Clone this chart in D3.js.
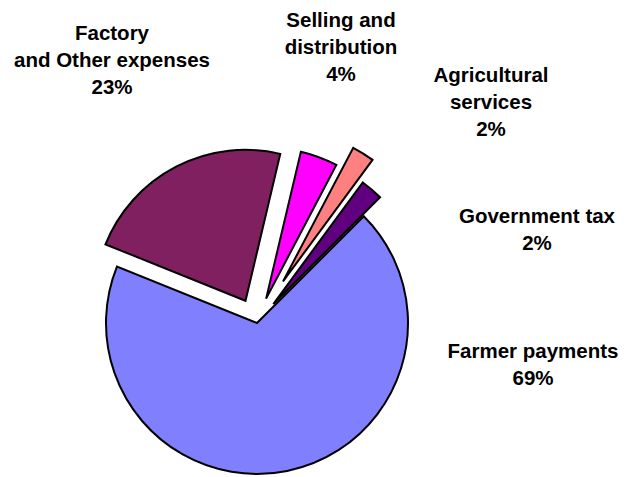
<!DOCTYPE html>
<html>
<head>
<meta charset="utf-8">
<script src="https://cdn.jsdelivr.net/npm/d3@7"></script>
<style>
  body { margin: 0; background: #fff; }
  svg { display: block; }
  .lbl { font-family: "Liberation Sans", Arial, sans-serif; font-weight: bold; font-size: 20.5px; fill: #000; }
</style>
</head>
<body>
<script>
'use strict';

// slices, clockwise from the first one
const categories = ["Farmer payments", "Factory and Other expenses", "Selling and distribution", "Agricultural services", "Government tax"];
const values = [68.6, 22.6, 4.0, 2.4, 2.4];
const labelLines = [["Farmer payments"], ["Factory", "and Other expenses"], ["Selling and", "distribution"], ["Agricultural", "services"], ["Government tax"]];
const colors = ["#8080FF", "#802060", "#FF00FF", "#FF8080", "#600080"];
// how far each slice is pulled out
const explode = [0, 25, 26, 49, 25];

(function() {
  const width = 625, height = 477;
  const cx = 257, cy = 323, radius = 151;
  const lineGap = 27;

  // first-line baseline of each label
  const labelPos = [[533, 358], [112, 40], [341, 27], [491, 82], [537, 223]];

  const svg = d3.select("body").append("svg")
    .attr("width", width)
    .attr("height", height);

  const start = 45 * Math.PI / 180;
  const pie = d3.pie().sort(null).value((d) => d).startAngle(start).endAngle(start + 2 * Math.PI);
  const arcs = pie(values);

  const arc = d3.arc().innerRadius(0).outerRadius(radius);

  const g = svg.append("g").attr("transform", "translate(" + cx + "," + cy + ")");

  g.selectAll("path")
    .data(arcs)
    .enter()
    .append("path")
      .attr("d", arc)
      .attr("fill", (d, i) => colors[i])
      .attr("stroke", "#000")
      .attr("stroke-width", 2)
      .attr("stroke-linejoin", "miter")
      .attr("transform", (d, i) => {
        let mid = (d.startAngle + d.endAngle) / 2;
        let dx = explode[i] * Math.sin(mid);
        let dy = -explode[i] * Math.cos(mid);
        return "translate(" + dx + "," + dy + ")";
      });

  let total = d3.sum(values);

  labelLines.forEach((lines, i) => {
    let all = lines.concat([Math.round(values[i] / total * 100) + "%"]);
    let t = svg.append("text")
      .attr("class", "lbl")
      .attr("text-anchor", "middle")
      .attr("x", labelPos[i][0])
      .attr("y", labelPos[i][1]);
    all.forEach((line, j) => {
      t.append("tspan")
        .attr("x", labelPos[i][0])
        .attr("dy", j == 0 ? 0 : lineGap)
        .text(line);
    });
  });
})();
</script>
</body>
</html>
